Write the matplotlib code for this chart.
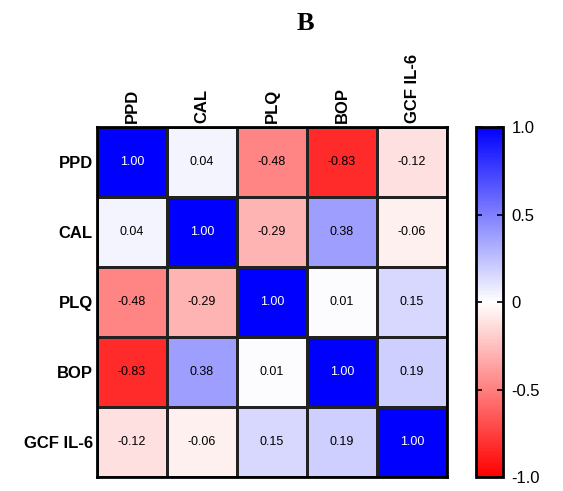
import numpy as np
import matplotlib
matplotlib.use("Agg")
from matplotlib import pyplot as plt
from matplotlib.colors import LinearSegmentedColormap

labels = ["PPD", "CAL", "PLQ", "BOP", "GCF IL-6"]
r_ppd = [1.00, 0.04, -0.48, -0.83, -0.12]
r_cal = [0.04, 1.00, -0.29, 0.38, -0.06]
r_plq = [-0.48, -0.29, 1.00, 0.01, 0.15]
r_bop = [-0.83, 0.38, 0.01, 1.00, 0.19]
r_il6 = [-0.12, -0.06, 0.15, 0.19, 1.00]
corr = np.array([r_ppd, r_cal, r_plq, r_bop, r_il6])

cmap = LinearSegmentedColormap.from_list("rwb", ["#ff0000", "#ffffff", "#0000ff"])

fig = plt.figure(figsize=(5.63, 4.91), dpi=100)
ax = fig.add_axes([0.1723, 0.0285, 0.6217, 0.7128])
cax = fig.add_axes([0.8455, 0.0285, 0.048, 0.7128])

im = ax.pcolormesh(corr, cmap=cmap, vmin=-1, vmax=1, edgecolors="#222222", linewidth=0.8)
ax.set_xlim(0, 5)
ax.set_ylim(5, 0)
ax.xaxis.tick_top()
ax.set_xticks(np.arange(5) + 0.5)
ax.set_yticks(np.arange(5) + 0.5)
ax.set_xticklabels(labels, rotation=90, fontweight="bold", fontsize=12, family="Liberation Sans")
ax.set_yticklabels(labels, fontweight="bold", fontsize=12, family="Liberation Sans")
ax.tick_params(length=0, pad=3)
for s in ax.spines.values():
    s.set_linewidth(2)

for i in range(5):
    for j in range(5):
        v = corr[i, j]
        c = "white" if v > 0.9 else "black"
        ax.text(j + 0.5, i + 0.5, f"{v:.2f}", ha="center", va="center",
                fontsize=9, color=c, family="Liberation Sans")

cb = fig.colorbar(im, cax=cax)
cb.set_ticks([-1, -0.5, 0, 0.5, 1])
cb.set_ticklabels(["-1.0", "-0.5", "0", "0.5", "1.0"])
cax.tick_params(direction="in", left=True, right=True, length=4, width=1.2,
                labelsize=12, pad=6)
for t in cax.get_yticklabels():
    t.set_family("Liberation Sans")
cb.outline.set_linewidth(2)

fig.text(0.542, 0.953, "B", ha="center", va="center", fontsize=19,
         fontweight="bold", family="Liberation Serif")

fig.savefig("out.png", dpi=100)
